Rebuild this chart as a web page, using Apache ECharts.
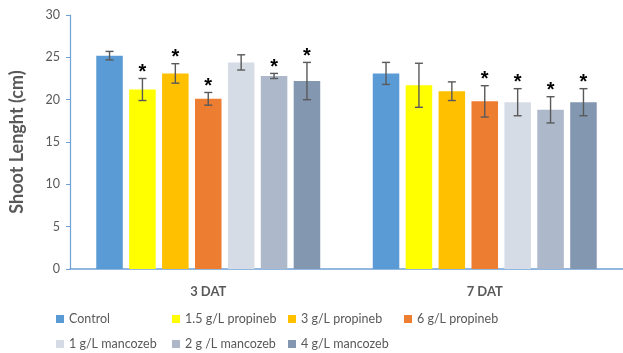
<!DOCTYPE html>
<html>
<head>
<meta charset="utf-8">
<script src="https://cdn.jsdelivr.net/npm/echarts@6/dist/echarts.min.js"></script>
<style>
  html, body { margin: 0; padding: 0; background: #fff; }
  #chart { width: 623px; height: 353px; }
</style>
</head>
<body>
<div id="chart"></div>
<script>
// Sampling days
const categories = ['3 DAT', '7 DAT'];

// Treatments, in plotting order
const treatments = ['Control', '1.5 g/L propineb', '3 g/L propineb', '6 g/L propineb',
                    '1 g/L mancozeb', '2 g /L mancozeb', '4 g/L mancozeb'];
const colors = ['#5B9BD5', '#FFFF00', '#FFC000', '#ED7D31', '#D6DCE5', '#ADB9CA', '#8497B0'];

// Mean shoot length (cm) per treatment
const means3DAT = [25.2, 21.2, 23.1, 20.1, 24.4, 22.8, 22.2];
const means7DAT = [23.1, 21.7, 21.0, 19.8, 19.7, 18.8, 19.7];

// Standard deviation per treatment
const err3DAT = [0.5, 1.3, 1.15, 0.75, 0.9, 0.3, 2.2];
const err7DAT = [1.3, 2.6, 1.1, 1.85, 1.6, 1.55, 1.6];

// Significant difference from control (1 = marked with *)
const sig3DAT = [0, 1, 1, 1, 0, 1, 1];
const sig7DAT = [0, 0, 0, 1, 1, 1, 1];

// Y axis ticks
const yMin = 0, yMax = 30, yStep = 5;

const BAR_CAT_GAP = 0.19;
const BAR_GAP = 0.24;
const N = treatments.length;

const chart = echarts.init(document.getElementById('chart'), null, { renderer: 'canvas' });

function errorRenderer(idx) {
  return function (params, api) {
    const cat = api.value(0);
    const mean = api.value(1);
    const sd = api.value(2);
    const sig = api.value(3);
    const band = api.size([1, 0])[0];
    const group = band * (1 - BAR_CAT_GAP);
    const w = group / (N + (N - 1) * BAR_GAP);
    const off = -group / 2 + w / 2 + idx * w * (1 + BAR_GAP);
    const c = api.coord([cat, mean]);
    const x = c[0] + off;
    const yHi = api.coord([cat, mean + sd])[1];
    const yLo = api.coord([cat, mean - sd])[1];
    const cap = 4;
    const style = { stroke: '#595959', lineWidth: 1.4 };
    const children = [
      { type: 'line', shape: { x1: x, y1: yHi, x2: x, y2: yLo }, style },
      { type: 'line', shape: { x1: x - cap, y1: yHi, x2: x + cap, y2: yHi }, style },
      { type: 'line', shape: { x1: x - cap, y1: yLo, x2: x + cap, y2: yLo }, style }
    ];
    if (sig) {
      children.push({
        type: 'text',
        style: {
          text: '*', x: x, y: yHi + 4,
          align: 'center', verticalAlign: 'bottom',
          fill: '#000', font: 'bold 20px "Liberation Sans", Arial, sans-serif'
        }
      });
    }
    return { type: 'group', children };
  };
}

const series = [];
treatments.forEach((name, i) => {
  series.push({
    name: name,
    type: 'bar',
    data: [means3DAT[i], means7DAT[i]],
    itemStyle: { color: colors[i] },
    barGap: (BAR_GAP * 100) + '%',
    barCategoryGap: (BAR_CAT_GAP * 100) + '%',
    silent: true
  });
});
treatments.forEach((name, i) => {
  series.push({
    name: name + ' sd',
    type: 'custom',
    renderItem: errorRenderer(i),
    data: [
      [0, means3DAT[i], err3DAT[i], sig3DAT[i]],
      [1, means7DAT[i], err7DAT[i], sig7DAT[i]]
    ],
    encode: { x: 0, y: 1 },
    z: 5,
    silent: true
  });
});

const axisColor = '#6FA0D6';
const textColor = '#595959';
const fontFamily = 'Lato, "Liberation Sans", sans-serif';

chart.setOption({
  animation: false,
  backgroundColor: '#fff',
  grid: { left: 62, right: 0, top: 15, bottom: 84, containLabel: false },
  legend: {
    data: treatments,
    left: 51,
    top: 305,
    width: 460,
    itemWidth: 8,
    itemHeight: 8,
    itemGap: 7,
    itemTextGap: 3,
    icon: 'rect',
    textStyle: { color: textColor, fontSize: 12.5, fontFamily, width: 96, lineHeight: 18 }
  },
  xAxis: {
    type: 'category',
    data: categories,
    axisLine: { lineStyle: { color: axisColor, width: 1.5 } },
    axisTick: { show: false },
    axisLabel: { color: textColor, fontWeight: 'bold', fontSize: 13, fontFamily, margin: 16 }
  },
  yAxis: {
    type: 'value',
    min: yMin, max: yMax, interval: yStep,
    name: 'Shoot Lenght (cm)',
    nameLocation: 'middle',
    nameGap: 44,
    nameTextStyle: { color: textColor, fontWeight: 'bold', fontSize: 18, fontFamily },
    axisLine: { show: true, lineStyle: { color: axisColor, width: 1.2 } },
    axisTick: { show: true, length: 4, lineStyle: { color: axisColor } },
    splitLine: { show: false },
    axisLabel: { color: textColor, fontSize: 12.5, fontFamily, margin: 10 }
  },
  series
});
</script>
</body>
</html>
